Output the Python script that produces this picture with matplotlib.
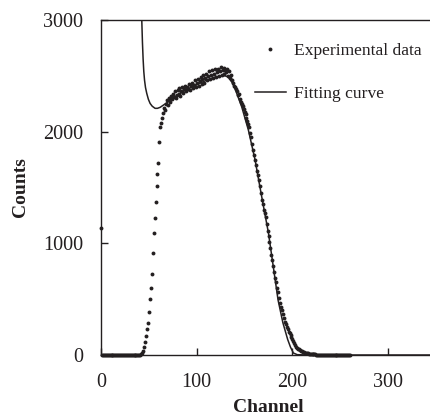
import numpy as np
import matplotlib
matplotlib.use("Agg")
import matplotlib.pyplot as plt

plt.rcParams['font.family'] = ['Liberation Serif', 'DejaVu Serif']

# ---- Experimental data (counts per channel, channel 0..260) ----
exp_counts = [
    1140,
    0, 0, 0, 0, 0, 0, 0, 0, 0, 0,
    0, 0, 0, 0, 0, 0, 0, 0, 0, 0,
    0, 0, 0, 0, 0, 0, 0, 0, 0, 0,
    0, 0, 0, 0, 0, 0, 0, 0, 0, 0,
    3, 8, 18, 40, 75, 120, 170, 230, 290, 385,                      # 41-50
    499, 597, 725, 911, 1090, 1227, 1367, 1516, 1620, 1716,         # 51-60
    1904, 2040, 2075, 2120, 2165, 2210, 2190, 2250, 2280, 2240,     # 61-70
    2300, 2270, 2320, 2290, 2340, 2310, 2360, 2300, 2330, 2370,     # 71-80
    2340, 2390, 2320, 2360, 2400, 2350, 2380, 2410, 2360, 2400,     # 81-90
    2380, 2430, 2370, 2410, 2440, 2390, 2420, 2460, 2400, 2440,     # 91-100
    2470, 2410, 2450, 2490, 2430, 2470, 2510, 2440, 2480, 2520,     # 101-110
    2460, 2500, 2540, 2470, 2510, 2550, 2480, 2520, 2560, 2490,     # 111-120
    2530, 2560, 2500, 2545, 2575, 2510, 2550, 2570, 2520, 2555,     # 121-130
    2530, 2560, 2500, 2540, 2480, 2510, 2460, 2440, 2410, 2400,     # 131-140
    2380, 2360, 2330, 2340, 2290, 2270, 2250, 2230, 2200, 2180,     # 141-150
    2160, 2120, 2100, 2070, 2040, 1990, 1950, 1890, 1840, 1790,     # 151-160
    1745, 1700, 1650, 1610, 1565, 1510, 1450, 1390, 1350, 1300,     # 161-170
    1270, 1235, 1170, 1110, 1070, 1010, 960, 900, 850, 800,         # 171-180
    740, 690, 650, 600, 560, 510, 470, 430, 400, 370,               # 181-190
    335, 300, 275, 250, 230, 210, 194, 175, 158, 140,               # 191-200
    122, 105, 90, 74, 66, 58, 50, 44, 38, 34,                       # 201-210
    30, 26, 22, 19, 16, 14, 12, 10, 9, 8,                           # 211-220
    7, 6, 5, 5, 4, 4, 3, 3, 2, 2,                                   # 221-230
    2, 1, 1, 1, 1, 0, 0, 0, 0, 0,                                   # 231-240
    0, 0, 0, 0, 0, 0, 0, 0, 0, 0,                                   # 241-250
    0, 0, 0, 0, 0, 0, 0, 0, 0, 0,                                   # 251-260
]
exp_channels = list(range(len(exp_counts)))

# ---- Fitting curve ----
fit_channels = [40, 41, 42, 42.6, 43.3, 44, 44.7, 45.5, 46.5, 47.8, 49.5, 51.3, 53.5, 56.5,
                59, 61.8, 68.8, 80, 90, 100, 110, 120, 128, 133, 137, 140, 147, 154,
                161, 166, 170, 175, 180, 185, 190, 195, 198, 201, 205, 215, 350]
fit_counts = [4200, 3700, 3250, 3000, 2800, 2650, 2540, 2460, 2395, 2343, 2290, 2253, 2228, 2209,
              2209, 2218, 2259, 2330, 2380, 2420, 2460, 2490, 2505, 2490, 2440, 2385, 2223, 2014,
              1746, 1507, 1320, 1090, 791, 492, 290, 140, 70, 18, 3, 0, 0]

x_ticks = [0, 100, 200, 300]
y_ticks = [0, 1000, 2000, 3000]

ink = '#231f20'

fig = plt.figure(figsize=(4.30, 4.17), dpi=100)
ax = fig.add_axes([101 / 430, 62 / 417, 335 / 430, 335 / 417])

ax.plot(exp_channels, exp_counts, linestyle='none', marker='o', markersize=2.8,
        markeredgewidth=0, color=ink, clip_on=False, label='Experimental data', zorder=3)
ax.plot(fit_channels, fit_counts, '-', color=ink, linewidth=1.1, label='Fitting curve', zorder=2)

ax.set_xlim(0, 350)
ax.set_ylim(0, 3000)
ax.set_xticks(x_ticks)
ax.set_yticks(y_ticks)
ax.tick_params(axis='both', direction='in', length=5, width=1, labelsize=14.5,
               colors=ink, pad=13, top=False, right=False)
for s in ax.spines.values():
    s.set_linewidth(1.0)
    s.set_color(ink)

ax.set_xlabel('Channel', fontsize=14, fontweight='bold', color=ink, labelpad=5)
ax.set_ylabel('Counts', fontsize=14, fontweight='bold', color=ink, labelpad=10)

leg = ax.legend(loc='upper left', bbox_to_anchor=(255 / 430, 1 - 43 / 417),
                bbox_transform=fig.transFigure, frameon=False, fontsize=12.6,
                handlelength=1.75, handletextpad=0.45, labelspacing=1.5,
                borderpad=0, borderaxespad=0, markerscale=1.0)
for t in leg.get_texts():
    t.set_color(ink)

fig.savefig('out.png', dpi=100)
